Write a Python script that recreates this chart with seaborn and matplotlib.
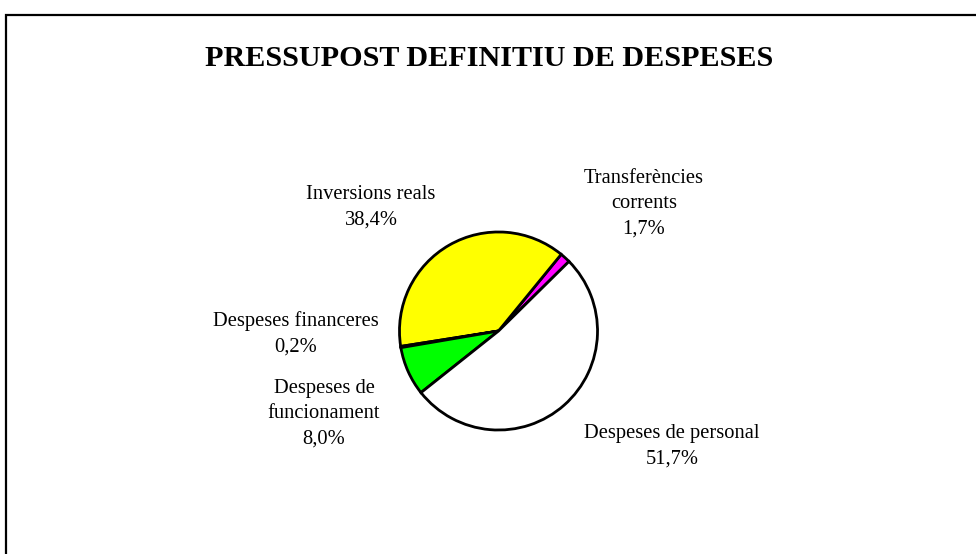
import matplotlib
matplotlib.use("Agg")
import matplotlib.pyplot as plt
from matplotlib.patches import Rectangle
import seaborn as sns

# slices, counter-clockwise from the top-right edge of the white slice
categories = ["Transferències\ncorrents", "Inversions reals", "Despeses financeres",
              "Despeses de\nfuncionament", "Despeses de personal"]
shares = [1.7, 38.4, 0.2, 8.0, 51.7]
colors = ["#FF00FF", "#FFFF00", "#000000", "#00FF00", "#FFFFFF"]

sns.set_theme(style="white")
plt.rcParams["font.family"] = ["Liberation Serif", "DejaVu Serif"]
plt.rcParams["text.color"] = "black"

fig = plt.figure(figsize=(9.76, 5.54), dpi=100)
fig.patch.set_facecolor("white")

# outer frame (left and top visible, right/bottom run off the image)
fig.patches.append(Rectangle((5.5 / 976, -0.1), 1.2, (554 - 14.5) / 554 + 0.1,
                             transform=fig.transFigure, fill=False,
                             edgecolor="black", linewidth=1.6))

fig.text(489 / 976, 1 - 58 / 554, "PRESSUPOST DEFINITIU DE DESPESES",
         ha="center", va="center", fontsize=21.7, fontweight="bold", color="black")

ax = fig.add_axes([397.5 / 976, 122 / 554, 202 / 976, 202 / 554])
ax.pie(shares, colors=colors, startangle=44.6, counterclock=True, radius=1,
       wedgeprops=dict(edgecolor="black", linewidth=2.0))
ax.set_xlim(-1.02, 1.02)
ax.set_ylim(-1.02, 1.02)
ax.set_aspect("equal")
ax.axis("off")

# label anchor points in pixels (centre x, centre y of first line)
label_pos = [(644, 177), (371, 193), (296, 319), (324, 387), (672, 432)]
for name, val, (px, py) in zip(categories, shares, label_pos):
    txt = f"{name}\n{val:.1f}%".replace(".", ",")
    fig.text(px / 976, 1 - (py - 8) / 554, txt, ha="center", va="top",
             fontsize=14.8, linespacing=1.45, color="black")

fig.savefig("out.png", dpi=100, facecolor="white")
